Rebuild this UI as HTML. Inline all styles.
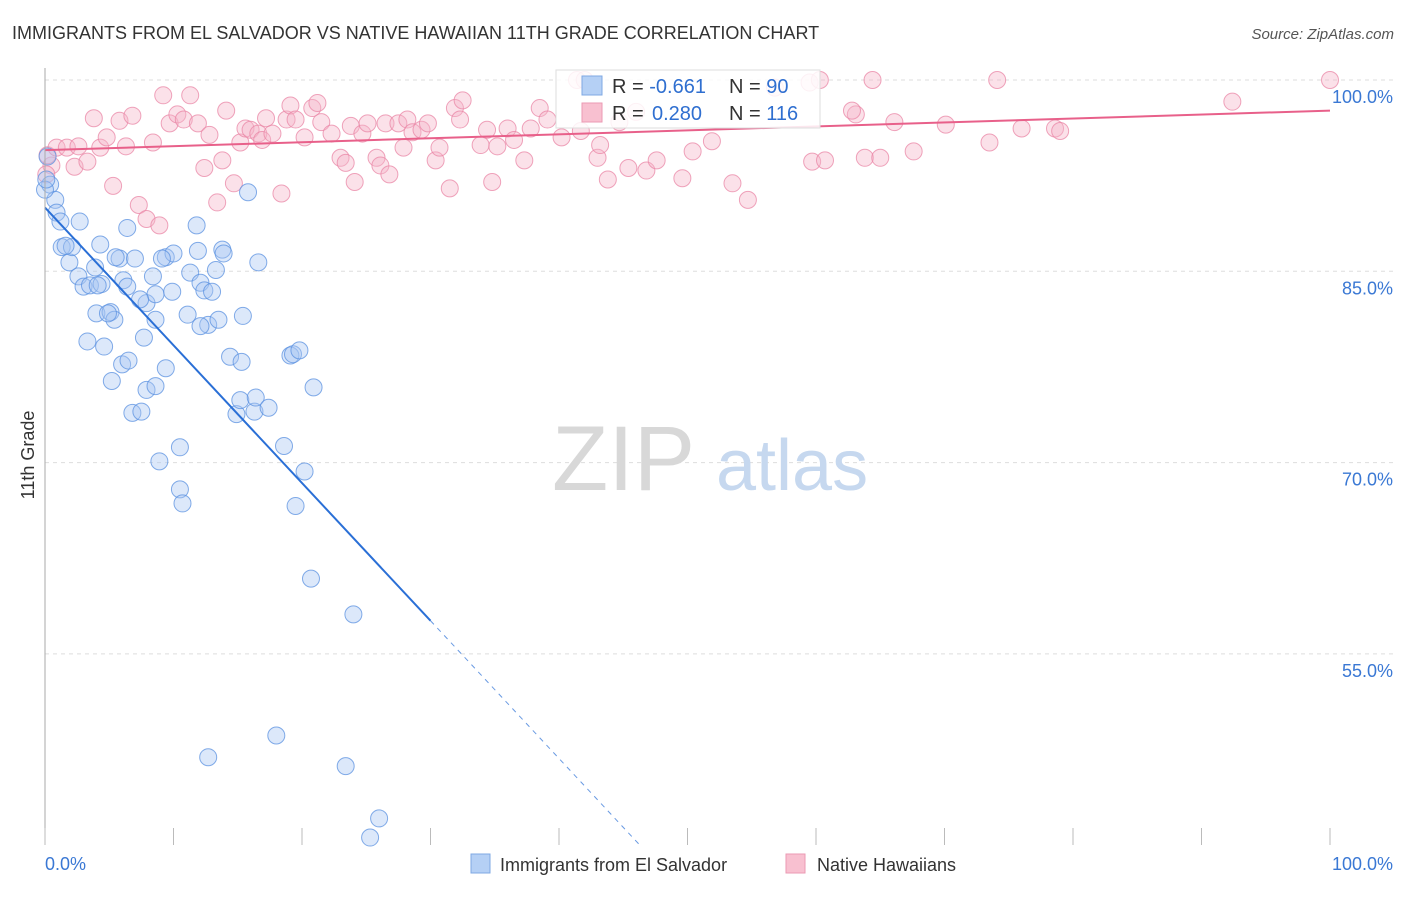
<!DOCTYPE html>
<html><head><meta charset="utf-8"><style>
body{margin:0;background:#fff;font-family:"Liberation Sans",sans-serif;}
svg text{font-family:"Liberation Sans",sans-serif;}
</style></head><body>
<svg id="chart" width="1406" height="892" viewBox="0 0 1406 892" xmlns="http://www.w3.org/2000/svg">
<text x="12" y="39" font-size="18" fill="#333">IMMIGRANTS FROM EL SALVADOR VS NATIVE HAWAIIAN 11TH GRADE CORRELATION CHART</text>
<text x="1394" y="39" font-size="15" fill="#555" font-style="italic" text-anchor="end">Source: ZipAtlas.com</text>
<g id="grid"></g>
<g>
<text x="552" y="490" font-size="92" font-family="Liberation Serif" fill="#d8d8d8">ZIP</text>
<text x="716" y="490" font-size="72" fill="#c6d8ef">atlas</text>
</g>
<text transform="translate(34,455) rotate(-90)" font-size="18" fill="#333" text-anchor="middle">11th Grade</text>
<g id="marks"></g>
<g id="trends"></g>
<g id="axes"></g>
<g>
<rect x="556" y="70" width="264" height="58" fill="#fff" fill-opacity="0.85" stroke="#ddd"/>
<rect x="582" y="76" width="20" height="19" fill="#b5d0f5" stroke="#7fa8e3"/>
<text x="612" y="93" font-size="20" fill="#333">R = <tspan fill="#2f6fd0">-0.661</tspan><tspan x="729">N = </tspan><tspan fill="#2f6fd0">90</tspan></text>
<rect x="582" y="103" width="20" height="19" fill="#f8c0d0" stroke="#eb9ab3"/>
<text x="612" y="120" font-size="20" fill="#333">R = <tspan x="652" fill="#2f6fd0">0.280</tspan><tspan x="729">N = </tspan><tspan fill="#2f6fd0">116</tspan></text>
</g>
<g>
<rect x="471" y="854" width="19" height="19" fill="#b5d0f5" stroke="#7fa8e3"/>
<text x="500" y="871" font-size="18" fill="#333">Immigrants from El Salvador</text>
<rect x="786" y="854" width="19" height="19" fill="#f8c0d0" stroke="#eb9ab3"/>
<text x="817" y="871" font-size="18" fill="#333">Native Hawaiians</text>
</g>
</svg>
<script>
const yTicks=[100,85,70,55];
const yTickLabels=["100.0%","85.0%","70.0%","55.0%"];
const xTickCount=10;
const xLabels=["0.0%","100.0%"];
const blueX=[0.2,0.4,0.8,0.9,1.2,1.3,1.9,2.1,2.7,2.6,3.0,3.5,3.9,4.3,4.4,4.0,5.1,5.4,4.9,3.3,4.6,5.2,6.0,6.5,6.8,7.5,7.9,8.6,8.9,9.4,7.7,7.9,8.4,8.6,9.4,10.0,9.9,10.5,10.5,10.7,11.1,11.3,11.8,11.9,12.1,12.4,13.0,12.7,13.3,13.5,13.8,13.9,14.4,14.9,15.2,15.3,15.4,15.8,16.3,16.4,16.6,17.4,18.6,19.1,19.3,19.8,20.2,20.9,19.5,20.7,24.0,12.7,18.0,23.4,26.0,25.3,6.4,5.8,6.1,7.0,7.4,6.4,8.6,5.5,12.1,0,1.6,4.1,9.1,0.1];
const blueY=[94.0,91.8,90.6,89.6,88.9,86.9,85.7,86.9,88.9,84.6,83.8,83.9,85.3,87.1,84.0,81.7,81.8,81.2,81.7,79.5,79.1,76.4,77.7,78.0,73.9,74.0,75.7,76.0,70.1,77.4,79.8,82.5,84.6,83.2,86.1,86.4,83.4,71.2,67.9,66.8,81.6,84.9,88.6,86.6,84.1,83.5,83.4,80.8,85.1,81.2,86.7,86.4,78.3,73.8,74.9,77.9,81.5,91.2,74.0,75.1,85.7,74.3,71.3,78.4,78.5,78.8,69.3,75.9,66.6,60.9,58.1,46.9,48.6,46.2,42.1,40.6,88.4,86.0,84.3,86.0,82.8,83.8,81.2,86.1,80.7,91.4,87.0,83.9,86.0,92.2];
const pinkX=[0.5,0.1,0.2,0.9,1.7,2.3,2.6,3.3,3.8,4.3,4.8,5.3,5.8,6.3,6.8,7.3,7.9,8.4,8.9,9.2,9.7,10.3,10.8,11.3,11.9,12.4,12.8,13.4,13.8,14.1,14.7,15.2,15.6,16.0,16.6,16.9,17.2,17.7,18.4,18.8,19.1,19.5,20.2,20.8,21.2,21.5,22.3,23.0,23.4,23.8,24.1,24.7,25.1,25.8,26.1,26.5,26.8,27.5,27.9,28.2,28.6,29.3,29.8,30.4,30.7,31.5,31.9,32.3,32.5,33.9,34.4,34.8,35.2,36.0,36.5,37.3,37.8,38.5,39.1,40.2,41.4,41.7,43.0,43.2,43.8,44.7,45.4,46.0,46.8,47.6,49.6,50.4,51.9,53.5,54.7,56.8,59.5,59.7,60.7,63.1,62.8,63.8,64.4,65.0,66.1,67.6,70.1,73.5,74.1,76.0,78.6,79.0,92.4,100,60.3,42.0];
const pinkY=[93.3,92.6,94.1,94.7,94.7,93.2,94.8,93.6,97.0,94.7,95.5,91.7,96.8,94.8,97.2,90.2,89.1,95.1,88.6,98.8,96.6,97.3,96.9,98.8,96.6,93.1,95.7,90.4,93.7,97.6,91.9,95.1,96.2,96.1,95.8,95.3,97.0,95.8,91.1,96.9,98.0,96.9,95.5,97.8,98.2,96.7,95.8,93.9,93.5,96.4,92.0,95.8,96.6,93.9,93.3,96.6,92.6,96.6,94.7,96.9,95.9,96.1,96.6,93.7,94.7,91.5,97.8,96.9,98.4,94.9,96.1,92.0,94.8,96.2,95.3,93.7,96.2,97.8,96.9,95.5,100,96.0,93.9,94.9,92.2,96.7,93.1,97.5,92.9,93.7,92.3,94.4,95.2,91.9,90.6,99.4,99.8,93.6,93.7,97.3,97.6,93.9,100,93.9,96.7,94.4,96.5,95.1,100,96.2,96.2,96.0,98.3,100,100,100];
const blueTrend=[90.0,-1.08];
const pinkTrend=[94.5,0.031];

const NS="http://www.w3.org/2000/svg";
const X0=45,X1=1330,YTOP=80,PPU=191.3/15,YBOT=845;
const sx=v=>X0+(X1-X0)*v/100;
const sy=v=>YTOP+(100-v)*PPU;
function mk(tag,attrs,parent){const e=document.createElementNS(NS,tag);for(const k in attrs)e.setAttribute(k,attrs[k]);parent.appendChild(e);return e;}
const grid=document.getElementById('grid'),axes=document.getElementById('axes'),marks=document.getElementById('marks'),trends=document.getElementById('trends');
yTicks.forEach((t,i)=>{
  const l=mk('line',{x1:X0,x2:1394,y1:sy(t),y2:sy(t),stroke:'#ddd','stroke-dasharray':'4,4'},grid);
  
  
  const tx=mk('text',{x:1393,y:sy(t)+23,'font-size':18,fill:'#3a78d4','text-anchor':'end'},axes);
  tx.textContent=yTickLabels[i];
  
  
});
mk('line',{x1:X0,x2:X0,y1:68,y2:YBOT,stroke:'#aaa'},axes);
for(let i=0;i<=xTickCount;i++){
  const v=i*100/xTickCount;
  const t=mk('line',{x1:sx(v),x2:sx(v),y1:828,y2:YBOT,stroke:'#bbb'},axes);
  
  
}
const xl0=mk('text',{x:45,y:870,'font-size':18,fill:'#3a78d4'},axes);xl0.textContent=xLabels[0];


const xl1=mk('text',{x:1393,y:870,'font-size':18,fill:'#3a78d4','text-anchor':'end'},axes);xl1.textContent=xLabels[1];


function pts(xs,ys,fill,stroke,name){
  xs.forEach((x,i)=>{
    const c=mk('circle',{cx:sx(x),cy:sy(ys[i]),r:8.5,fill:fill,'fill-opacity':0.4,stroke:stroke,'stroke-opacity':0.75,'stroke-width':1},marks);
    
    
  });
}
pts(pinkX,pinkY,'#f5b3c8','#e985a6','native-hawaiian-point');
pts(blueX,blueY,'#a7c6f2','#5a90e0','el-salvador-point');
// blue trend: solid to x=30, dashed to bottom
const bEnd=30,bBot=(40-blueTrend[0])/blueTrend[1];
const bl=mk('line',{x1:sx(0),y1:sy(blueTrend[0]),x2:sx(bEnd),y2:sy(blueTrend[0]+blueTrend[1]*bEnd),stroke:'#2a6fd6','stroke-width':2},trends);


const bd=mk('line',{x1:sx(bEnd),y1:sy(blueTrend[0]+blueTrend[1]*bEnd),x2:sx(bBot),y2:sy(40),stroke:'#2a6fd6','stroke-width':1,'stroke-dasharray':'5,5','stroke-opacity':0.7},trends);


const pl=mk('line',{x1:sx(0),y1:sy(pinkTrend[0]),x2:sx(100),y2:sy(pinkTrend[0]+pinkTrend[1]*100),stroke:'#e8608a','stroke-width':2},trends);


</script>
</body></html>
